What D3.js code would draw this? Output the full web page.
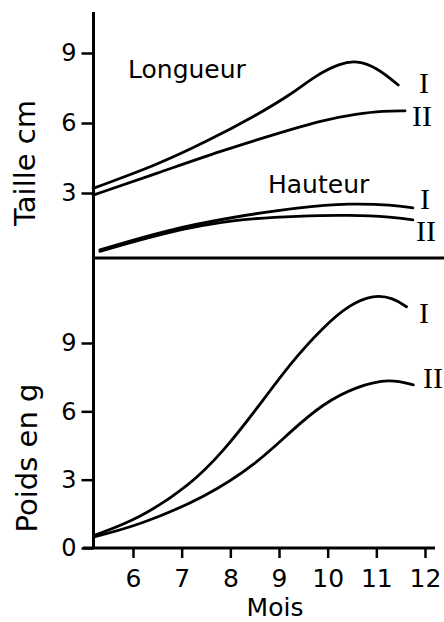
<!DOCTYPE html>
<html>
<head>
<meta charset="utf-8">
<script src="https://cdn.jsdelivr.net/npm/d3@7"></script>
<style>
  html, body { margin: 0; padding: 0; background: #fff; }
  svg { display: block; }
  text { font-family: "DejaVu Sans", sans-serif; fill: #000; }
</style>
</head>
<body>
<svg id="chart" width="444" height="622"></svg>
<script>
// ---- data ----
const monthTicks = [6, 7, 8, 9, 10, 11, 12];
const tailleTicks = [3, 6, 9];
const poidsTicks = [0, 3, 6, 9];

// [month, cm]
const longueurI  = [[5.18, 3.2], [6.49, 4.2], [7.51, 5.2], [8.54, 6.34], [9.23, 7.2], [9.77, 8.06], [10.25, 8.55], [10.6, 8.68], [11.01, 8.38], [11.45, 7.63]];
const longueurII = [[5.18, 2.91], [6.49, 3.84], [7.86, 4.84], [8.88, 5.49], [9.91, 6.13], [10.6, 6.39], [11.14, 6.52], [11.59, 6.52]];
const hauteurI   = [[5.32, 0.56], [6.7, 1.42], [8.05, 1.97], [9.43, 2.4], [10.46, 2.56], [11.34, 2.49], [11.75, 2.36]];
const hauteurII  = [[5.32, 0.5], [6.7, 1.33], [8.05, 1.87], [9.43, 2.02], [10.46, 2.06], [11.34, 1.97], [11.75, 1.85]];
// [month, g]
const poidsI  = [[5.22, 0.57], [6.14, 1.3], [7.17, 2.75], [7.86, 4.25], [8.54, 6.1], [9.23, 8.11], [9.91, 9.71], [10.46, 10.7], [10.94, 11.12], [11.35, 10.98], [11.62, 10.59]];
const poidsII = [[5.22, 0.5], [6.14, 1.01], [7.51, 2.25], [8.54, 3.7], [9.23, 5.1], [9.91, 6.35], [10.6, 7.1], [11.28, 7.44], [11.76, 7.16]];

// ---- drawing ----
const svg = d3.select("#chart");
const axisX = 93.5;

const x = d3.scaleLinear().domain([6, 12]).range([133, 425]);
const yTop = d3.scaleLinear().domain([3, 9]).range([193, 53]);
const yBot = d3.scaleLinear().domain([0, 9]).range([548, 343]);

const lineTop = d3.line().x(d => x(d[0])).y(d => yTop(d[1])).curve(d3.curveBasis);
const lineBot = d3.line().x(d => x(d[0])).y(d => yBot(d[1])).curve(d3.curveBasis);

// frame lines
svg.append("line").attr("x1", axisX).attr("x2", axisX).attr("y1", 12).attr("y2", 549)
  .attr("stroke", "#000").attr("stroke-width", 3);
svg.append("line").attr("x1", axisX).attr("x2", 444).attr("y1", 258).attr("y2", 258)
  .attr("stroke", "#000").attr("stroke-width", 3);
svg.append("line").attr("x1", 83).attr("x2", 435).attr("y1", yBot(0)).attr("y2", yBot(0))
  .attr("stroke", "#000").attr("stroke-width", 3);

function styleAxis(g) {
  g.select(".domain").remove();
  g.selectAll(".tick line").attr("stroke", "#000").attr("stroke-width", 2.5);
  g.selectAll(".tick text").attr("font-family", "DejaVu Sans, sans-serif").attr("fill", "#000");
}

// y axes
svg.append("g").attr("transform", `translate(${axisX},0)`)
  .call(d3.axisLeft(yTop).tickValues(tailleTicks).tickSize(12).tickPadding(5).tickFormat(d3.format("d")))
  .call(styleAxis)
  .selectAll(".tick text").attr("font-size", 24);
svg.append("g").attr("transform", `translate(${axisX},0)`)
  .call(d3.axisLeft(yBot).tickValues(poidsTicks).tickSize(12).tickPadding(5).tickFormat(d3.format("d")))
  .call(styleAxis)
  .selectAll(".tick text").attr("font-size", 24);

// x axis
svg.append("g").attr("transform", `translate(0,${yBot(0)})`)
  .call(d3.axisBottom(x).tickValues(monthTicks).tickSize(10).tickPadding(11).tickFormat(d3.format("d")))
  .call(styleAxis)
  .selectAll(".tick text").attr("font-size", 25);

// curves
const curveStyle = p => p.attr("fill", "none").attr("stroke", "#000").attr("stroke-width", 2.8)
  .attr("stroke-linecap", "round").attr("stroke-linejoin", "round");
[longueurI, longueurII, hauteurI, hauteurII].forEach(s => svg.append("path").datum(s).attr("d", lineTop).call(curveStyle));
[poidsI, poidsII].forEach(s => svg.append("path").datum(s).attr("d", lineBot).call(curveStyle));

// titles
svg.append("text").attr("x", 128).attr("y", 78).attr("font-size", 25).text("Longueur");
svg.append("text").attr("x", 268).attr("y", 193).attr("font-size", 25).text("Hauteur");

svg.append("text").attr("transform", "translate(35,163) rotate(-90)")
  .attr("text-anchor", "middle").attr("font-size", 29).text("Taille cm");
svg.append("text").attr("transform", "translate(37,458) rotate(-90)")
  .attr("text-anchor", "middle").attr("font-size", 29).text("Poids en g");
svg.append("text").attr("x", 275).attr("y", 616).attr("text-anchor", "middle").attr("font-size", 25).text("Mois");

// roman numerals
const romans = [
  ["I", 424, 82], ["II", 422, 115], ["I", 425, 198], ["II", 426, 230], ["I", 424, 312], ["II", 433, 377]
];
svg.selectAll("text.roman").data(romans).enter().append("text")
  .attr("class", "roman")
  .attr("x", d => d[1]).attr("y", d => d[2]).attr("dy", "0.35em")
  .attr("text-anchor", "middle")
  .attr("font-size", 30)
  .style("font-family", "'Liberation Serif', serif")
  .text(d => d[0]);
</script>
</body>
</html>
